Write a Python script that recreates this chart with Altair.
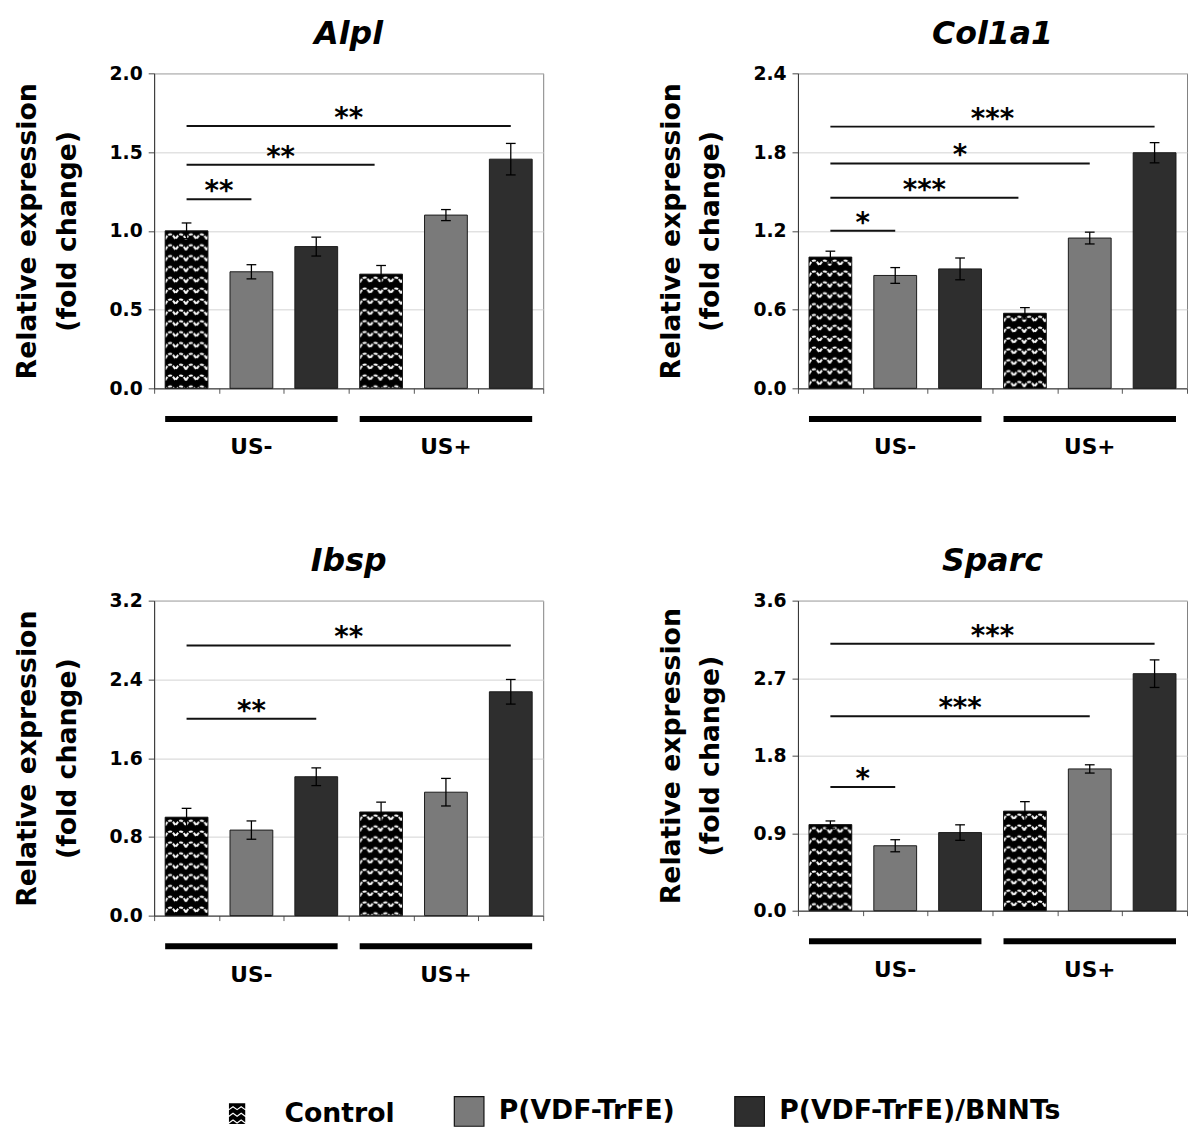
import base64
import altair as alt
import pandas as pd

# ---------------- data ----------------
genes = ["Alpl", "Col1a1", "Ibsp", "Sparc"]
treatments = ["Control", "P(VDF-TrFE)", "P(VDF-TrFE)/BNNTs"]
groups = ["US-", "US+"]

# order: US- (Control, PVDF, PVDF/BNNT), US+ (Control, PVDF, PVDF/BNNT)
alpl_mean = [1.00, 0.74, 0.90, 0.725, 1.10, 1.455]
alpl_err = [0.05, 0.045, 0.06, 0.055, 0.035, 0.10]
alpl_ticks = [0.0, 0.5, 1.0, 1.5, 2.0]
alpl_sig = [(0, 1, 1.20, "**"), (0, 2.9, 1.42, "**"), (0, 5, 1.665, "**")]

col_mean = [1.00, 0.86, 0.91, 0.572, 1.145, 1.795]
col_err = [0.045, 0.06, 0.083, 0.043, 0.045, 0.077]
col_ticks = [0.0, 0.6, 1.2, 1.8, 2.4]
col_sig = [(0, 1, 1.20, "*"), (0, 2.9, 1.452, "***"), (0, 4, 1.713, "*"), (0, 5, 1.994, "***")]

ibsp_mean = [1.00, 0.869, 1.411, 1.053, 1.254, 2.274]
ibsp_err = [0.09, 0.093, 0.09, 0.10, 0.14, 0.125]
ibsp_ticks = [0.0, 0.8, 1.6, 2.4, 3.2]
ibsp_sig = [(0, 2, 2.0, "**"), (0, 5, 2.745, "**")]

sparc_mean = [1.00, 0.754, 0.907, 1.156, 1.646, 2.752]
sparc_err = [0.042, 0.07, 0.09, 0.11, 0.048, 0.16]
sparc_ticks = [0.0, 0.9, 1.8, 2.7, 3.6]
sparc_sig = [(0, 1, 1.435, "*"), (0, 4, 2.258, "***"), (0, 5, 3.10, "***")]

group_start = [0, 3]
group_end = [2, 5]

# ---------------- styles ----------------
FONT = "DejaVu Sans"
COLORS = ["#000000", "#7a7a7a", "#2e2e2e"]
HW = 0.33      # bar half width (x units)
CAP = 0.075    # error cap half width
W = 394

ZZ_SVG = (
    "<svg xmlns='http://www.w3.org/2000/svg' width='100%' height='100%'>"
    "<defs><pattern id='zz' width='21' height='11' patternUnits='userSpaceOnUse'>"
    "<rect width='21' height='11' fill='#000'/>"
    "<path d='M0 8.5 Q5.25 -1.5 10.5 8.5 Q15.75 -1.5 21 8.5' fill='none' stroke='#ffffff' "
    "stroke-width='2.1' stroke-dasharray='4 1.2'/>"
    "</pattern></defs>"
    "<rect width='100%' height='100%' fill='url(#zz)'/></svg>"
)
ZZ_URI = "data:image/svg+xml;base64," + base64.b64encode(ZZ_SVG.encode()).decode()


def control_symbol():
    cx, hx, hy = -1.2, 0.55, 0.7
    xL, xR, yT, yB = cx - hx, cx + hx, -hy, hy
    p = f"M{xL:.3f},{yT:.3f}L{xR:.3f},{yT:.3f}L{xR:.3f},{yB:.3f}L{xL:.3f},{yB:.3f}Z"
    n, amp, th = 4, 0.2, 0.1
    step = (xR - xL) / n
    for k in range(3):
        by = yT + 0.38 + k * 0.45
        pts = [(xL + i * step, by - (amp if i % 2 else 0)) for i in range(n + 1)]
        bot = [(x, y + th) for x, y in pts]
        top = list(reversed(pts))
        seq = bot + top
        p += "M" + "L".join(f"{x:.3f},{y:.3f}" for x, y in seq) + "Z"
    return p


CTRL_PATH = control_symbol()

legend = alt.Legend(
    title=None,
    orient="none",
    legendX=86,
    legendY=1035,
    direction="horizontal",
    symbolType=alt.ExprRef(expr=f"datum.value === 'Control' ? '{CTRL_PATH}' : 'square'"),
    symbolSize=900,
    symbolStrokeColor=alt.ExprRef(expr="datum.value === 'Control' ? 'transparent' : '#111111'"),
    symbolStrokeWidth=1.2,
    symbolOpacity=1,
    labelFont=FONT,
    labelFontSize=27,
    labelFontWeight="bold",
    labelColor="black",
    labelOffset=14,
    labelLimit=600,
    columnPadding=57,
    padding=0,
)


def panel(gene, means, errs, ticks, sig, height):
    rows = []
    for gi, g in enumerate(groups):
        for ti, t in enumerate(treatments):
            i = gi * 3 + ti
            rows.append(dict(idx=i, treatment=t, group=g, mean=means[i],
                             lo=means[i] - errs[i], hi=means[i] + errs[i]))
    bars = pd.DataFrame(rows)
    sig_df = pd.DataFrame(sig, columns=["a", "b", "y", "label"])
    grp_df = pd.DataFrame({"group": groups, "start": group_start, "end": group_end})

    xs = alt.Scale(domain=[-0.5, 5.5], nice=False, zero=False)
    ys = alt.Scale(domain=[ticks[0], ticks[-1]], nice=False)
    xaxis = alt.Axis(values=[-0.5 + k for k in range(7)], labels=False, title=None,
                     grid=False, tickSize=5, tickColor="#555555", domainColor="#333333")
    yaxis = alt.Axis(values=ticks, format=".1f", title=["Relative expression", "(fold change)"],
                     grid=True, gridColor="#d2d2d2", tickSize=6, tickColor="#444444",
                     domainColor="#333333", labelFont=FONT, labelFontSize=19,
                     labelFontWeight="bold", labelColor="black", labelPadding=6,
                     titleFont=FONT, titleFontSize=27, titleFontWeight="bold",
                     titleColor="black", titleLineHeight=40, titleBaseline="top",
                     titleX=-141)

    base = alt.Chart(bars).transform_calculate(
        xl=f"datum.idx - {HW}", xr=f"datum.idx + {HW}",
        cl=f"datum.idx - {CAP}", cr=f"datum.idx + {CAP}")

    fill = base.mark_bar().encode(
        x=alt.X("xl:Q", scale=xs, axis=xaxis),
        x2="xr:Q",
        y=alt.Y("mean:Q", scale=ys, axis=yaxis),
        y2=alt.datum(0),
        color=alt.Color("treatment:N", sort=treatments,
                        scale=alt.Scale(domain=treatments, range=COLORS), legend=legend),
    )
    pattern = base.transform_filter("datum.treatment === 'Control'").mark_image(aspect=False).encode(
        x="xl:Q", x2="xr:Q", y="mean:Q", y2=alt.datum(0), url=alt.value(ZZ_URI))
    outline = base.mark_bar(fillOpacity=0, stroke="#1a1a1a", strokeWidth=1).encode(
        x="xl:Q", x2="xr:Q", y="mean:Q", y2=alt.datum(0))
    err = base.mark_rule(color="black", strokeWidth=1.3).encode(
        x="idx:Q", y="lo:Q", y2="hi:Q")
    cap_hi = base.mark_rule(color="black", strokeWidth=1.3).encode(
        x="cl:Q", x2="cr:Q", y="hi:Q")
    cap_lo = base.mark_rule(color="black", strokeWidth=1.3).encode(
        x="cl:Q", x2="cr:Q", y="lo:Q")

    sig_lines = alt.Chart(sig_df).mark_rule(color="#111111", strokeWidth=2).encode(
        x="a:Q", x2="b:Q", y="y:Q")
    sig_text = alt.Chart(sig_df).transform_calculate(mid="(datum.a + datum.b) / 2").mark_text(
        font=FONT, fontSize=28, fontWeight="bold", baseline="alphabetic", dy=1, color="black"
    ).encode(x="mid:Q", y="y:Q", text="label:N")

    grp_rule = alt.Chart(grp_df).transform_calculate(
        gs=f"datum.start - {HW}", ge=f"datum.end + {HW}").mark_rule(
        strokeWidth=6, color="black").encode(x="gs:Q", x2="ge:Q", y=alt.value(height + 31))
    grp_text = alt.Chart(grp_df).transform_calculate(gc="(datum.start + datum.end) / 2").mark_text(
        font=FONT, fontSize=22, fontWeight="bold", baseline="middle", color="black"
    ).encode(x="gc:Q", y=alt.value(height + 60), text="group:N")

    return alt.layer(fill, pattern, outline, err, cap_hi, cap_lo, sig_lines, sig_text,
                     grp_rule, grp_text).properties(
        width=W, height=height,
        title=alt.TitleParams(text=gene, font=FONT, fontSize=32, fontStyle="italic",
                              fontWeight="bold", anchor="middle", baseline="alphabetic",
                              frame="group", offset=-11, color="black"))


p1 = panel(genes[0], alpl_mean, alpl_err, alpl_ticks, alpl_sig, 319)
p2 = panel(genes[1], col_mean, col_err, col_ticks, col_sig, 319)
p3 = panel(genes[2], ibsp_mean, ibsp_err, ibsp_ticks, ibsp_sig, 319)
p4 = panel(genes[3], sparc_mean, sparc_err, sparc_ticks, sparc_sig, 314)

row1 = alt.hconcat(p1, p2, spacing=114)
row2 = alt.hconcat(p3, p4, spacing=114)

chart = alt.vconcat(row1, row2, spacing=86).resolve_scale(color="shared").properties(
    padding={"left": 5, "top": 2, "right": 0, "bottom": 0}
).configure(font=FONT).configure_view(stroke="#808080", strokeWidth=1)

chart.save("out.html", embed_options={"renderer": "svg", "actions": False})
